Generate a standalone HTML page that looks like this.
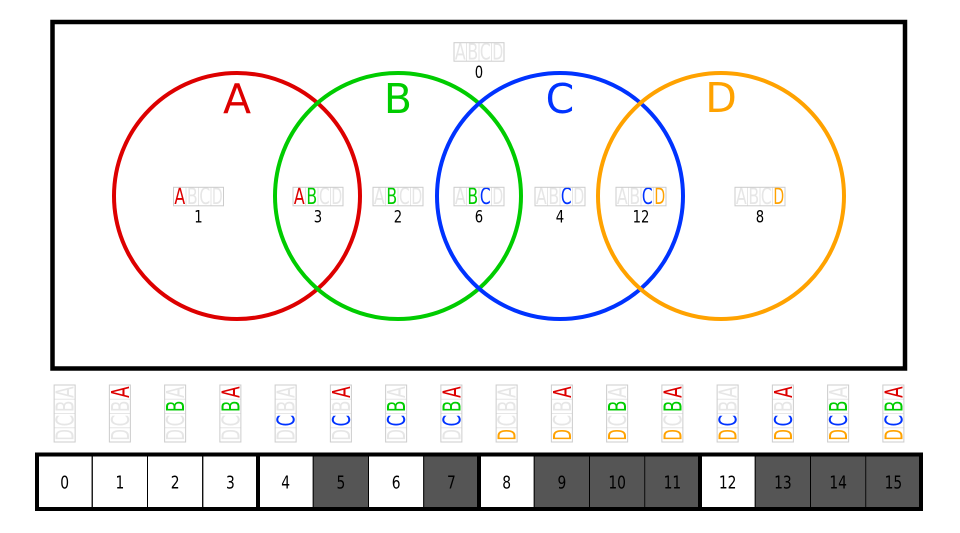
<!DOCTYPE html>
<html><head><meta charset="utf-8"><style>
html,body{margin:0;padding:0;background:#fff;}
svg{display:block;}
.c{font-family:"DejaVu Sans Condensed","DejaVu Sans","Liberation Sans",sans-serif;}
</style></head><body>
<svg width="960" height="533" viewBox="0 0 960 533" xmlns="http://www.w3.org/2000/svg">
<rect x="0" y="0" width="960" height="533" fill="#fff"/>
<rect x="52.5" y="22" width="852.5" height="346.5" fill="none" stroke="#000" stroke-width="4.5"/>
<g fill="none" stroke-width="4">
<circle cx="237" cy="196" r="123" stroke="#dd0000"/>
<circle cx="398" cy="196" r="123" stroke="#00cc00"/>
<circle cx="560" cy="196" r="123" stroke="#0033ff"/>
<circle cx="721" cy="196" r="123" stroke="#ffa200"/>
</g>
<g font-family="'DejaVu Sans','Liberation Sans',sans-serif" font-size="41" text-anchor="middle">
<text x="237" y="113" fill="#dd0000">A</text>
<text x="398" y="113" fill="#00cc00">B</text>
<text x="560" y="113" fill="#0033ff">C</text>
<text x="721" y="112" fill="#ffa200">D</text>
</g>
<g id="regions"></g>
<g id="vlabels"></g>
<g id="bar"></g>
<script>
(function(){
var NS="http://www.w3.org/2000/svg";
var cols=["#dd0000","#00cc00","#0033ff","#ffa200"];
var L=["A","B","C","D"];
function el(t,a,p,txt){var e=document.createElementNS(NS,t);for(var k in a)e.setAttribute(k,a[k]);if(txt!=null)e.textContent=txt;p.appendChild(e);return e;}
var reg=document.getElementById("regions");
var regions=[[479,42.7,0],[198.5,187.3,1],[318,187.3,3],[398,187.3,2],[479,187.3,6],[560,187.3,4],[641,187.3,12],[760,187.3,8]];
regions.forEach(function(r){
  var cx=r[0],y=r[1],m=r[2],w=50,h=18.5,x0=cx-w/2;
  for(var i=0;i<4;i++){
    var on=(m>>i)&1;
    el("text",{x:x0+12.5*i+6.25,y:y+16.6,"text-anchor":"middle","font-size":"22",fill:on?cols[i]:"#e6e6e6","class":"c",textLength:"10.8",lengthAdjust:"spacingAndGlyphs"},reg,L[i]);
    if(i>0) el("line",{x1:x0+12.5*i,y1:y,x2:x0+12.5*i,y2:y+h,stroke:"#e6e6e6","stroke-width":"1"},reg);
  }
  el("rect",{x:x0,y:y,width:w,height:h,fill:"none",stroke:"#cccccc","stroke-width":"1"},reg);
  var s=String(m);
  el("text",{x:cx,y:y+35.3,"text-anchor":"middle","font-size":"17",fill:"#000","class":"c",textLength:String(8.4*s.length),lengthAdjust:"spacingAndGlyphs"},reg,s);
});
var vl=document.getElementById("vlabels");
var bar=document.getElementById("bar");
var b0=37,cw=55.25;
for(var n=0;n<16;n++){
  var cx=b0+cw*n+cw/2, bx=cx-10.5, by=385, bw=21, bh=57, ch=bh/4;
  for(var i=0;i<4;i++){
    var on=(n>>i)&1, cy=by+ch*i+ch/2;
    el("text",{x:0,y:0,transform:"translate("+(cx+0.5)+","+cy+") rotate(-90)","text-anchor":"middle",dy:"8.6","font-size":"25",fill:on?cols[i]:"#e6e6e6","class":"c",textLength:"11.5",lengthAdjust:"spacingAndGlyphs"},vl,L[i]);
    if(i>0) el("line",{x1:bx,y1:by+ch*i,x2:bx+bw,y2:by+ch*i,stroke:"#e6e6e6","stroke-width":"1"},vl);
  }
  el("rect",{x:bx,y:by,width:bw,height:bh,fill:"none",stroke:"#cccccc","stroke-width":"1"},vl);
  var dark=[5,7,9,10,11,13,14,15].indexOf(n)>=0;
  el("rect",{x:b0+cw*n,y:454.5,width:cw,height:54.5,fill:dark?"#555555":"#ffffff",stroke:dark?"#777":"#000","stroke-width":"1"},bar);
  var s=String(n);
  el("text",{x:cx,y:488.5,"text-anchor":"middle","font-size":"18",fill:"#000","class":"c",textLength:String(8.8*s.length),lengthAdjust:"spacingAndGlyphs"},bar,s);
}
for(var n=1;n<16;n++){
  var x=b0+cw*n;
  el("line",{x1:x,y1:454.5,x2:x,y2:509,stroke:"#000","stroke-width":(n%4==0)?"4":"1"},bar);
}
el("rect",{x:b0,y:454.5,width:cw*16,height:54.5,fill:"none",stroke:"#000","stroke-width":"4"},bar);
})();
</script>
</svg>
</body></html>
